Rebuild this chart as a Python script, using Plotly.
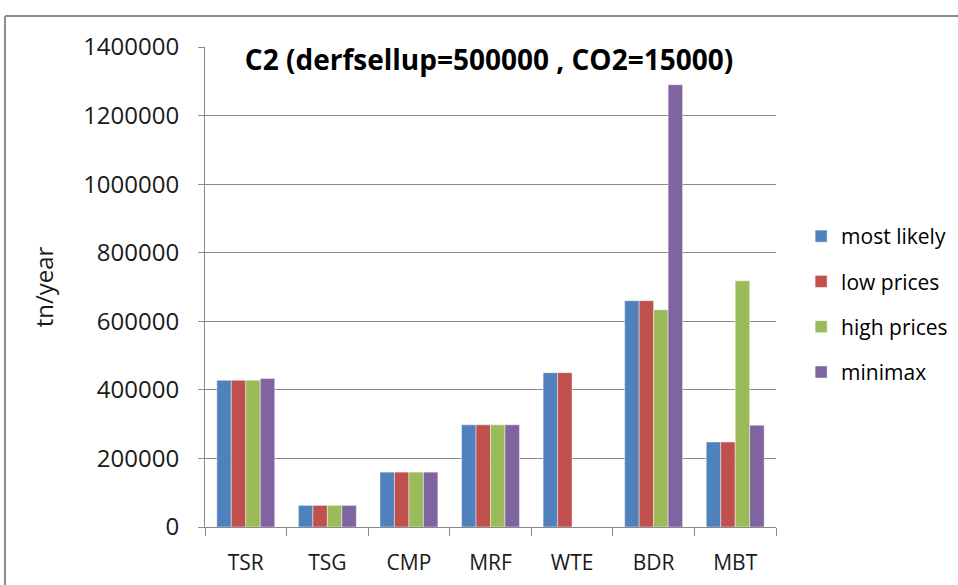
import plotly.graph_objects as go

# Plant types and annual throughput per scenario (tn/year)
categories = ["TSR", "TSG", "CMP", "MRF", "WTE", "BDR", "MBT"]
most_likely = [428000, 63000, 160000, 298000, 450000, 660000, 248000]
low_prices = [428000, 63000, 160000, 298000, 450000, 660000, 248000]
high_prices = [428000, 63000, 160000, 298000, 0, 634000, 718000]
minimax = [433000, 63000, 160000, 298000, 0, 1290000, 297000]

series_names = ["most likely", "low prices", "high prices", "minimax"]
series_values = [most_likely, low_prices, high_prices, minimax]
series_colors = ["#4F81BD", "#C0504D", "#9BBB59", "#8064A2"]

y_ticks = [0, 200000, 400000, 600000, 800000, 1000000, 1200000, 1400000]

FONT = "Open Sans"
TEXT = "#1a1a1a"
GRID = "#8a8a8a"

fig = go.Figure()
for i, (name, vals, col) in enumerate(zip(series_names, series_values, series_colors)):
    fig.add_trace(go.Bar(
        x=categories,
        y=vals,
        name=name,
        legendgroup=name,
        marker=dict(color=col, line=dict(color="rgba(255,255,255,0.55)", width=0.8)),
    ))

fig.update_layout(
    width=958,
    height=585,
    margin=dict(l=205, r=182, t=47, b=58, autoexpand=False),
    paper_bgcolor="white",
    plot_bgcolor="white",
    barmode="group",
    bargap=0.29,
    bargroupgap=0,
    font=dict(family=FONT, color=TEXT),
    title=dict(
        text="<b>C2 (derfsellup=500000 , CO2=15000)</b>",
        x=489 / 958,
        xanchor="center",
        y=1 - 60 / 585,
        yanchor="middle",
        font=dict(family=FONT, size=28, color="#000"),
    ),
    legend=dict(
        x=1.044,
        xanchor="left",
        y=0.648,
        yanchor="top",
        traceorder="grouped",
        tracegroupgap=15,
        font=dict(family=FONT, size=21, color="#000"),
        itemclick=False,
        bgcolor="rgba(0,0,0,0)",
    ),
    xaxis=dict(
        type="category",
        automargin=False,
        showline=True,
        linecolor=GRID,
        linewidth=1,
        ticks="outside",
        tickson="boundaries",
        ticklen=8,
        tickcolor=GRID,
        tickfont=dict(family=FONT, size=21, color=TEXT),
        ticklabelstandoff=17,
        showgrid=False,
    ),
    yaxis=dict(
        range=[0, 1400000],
        automargin=False,
        tickvals=y_ticks,
        ticktext=[str(v) for v in y_ticks],
        showline=True,
        linecolor=GRID,
        linewidth=1,
        ticks="outside",
        ticklen=6,
        tickcolor=GRID,
        showgrid=True,
        gridcolor=GRID,
        gridwidth=1,
        zeroline=False,
        tickfont=dict(family=FONT, size=24, color=TEXT),
        ticklabelstandoff=14,
        title=dict(text="tn/year", font=dict(family=FONT, size=24, color=TEXT), standoff=22),
    ),
)

# Chart-area frame (top and left edges)
fig.add_shape(type="line", xref="paper", yref="paper",
              x0=(5 - 205) / 571, x1=2.0, y0=(527 - 16) / 480, y1=(527 - 16) / 480,
              line=dict(color="#8c8c8c", width=2))
fig.add_shape(type="line", xref="paper", yref="paper",
              x0=(5 - 205) / 571, x1=(5 - 205) / 571, y0=(527 - 16) / 480, y1=-1.0,
              line=dict(color="#8c8c8c", width=2))

fig.write_html("out.html")
